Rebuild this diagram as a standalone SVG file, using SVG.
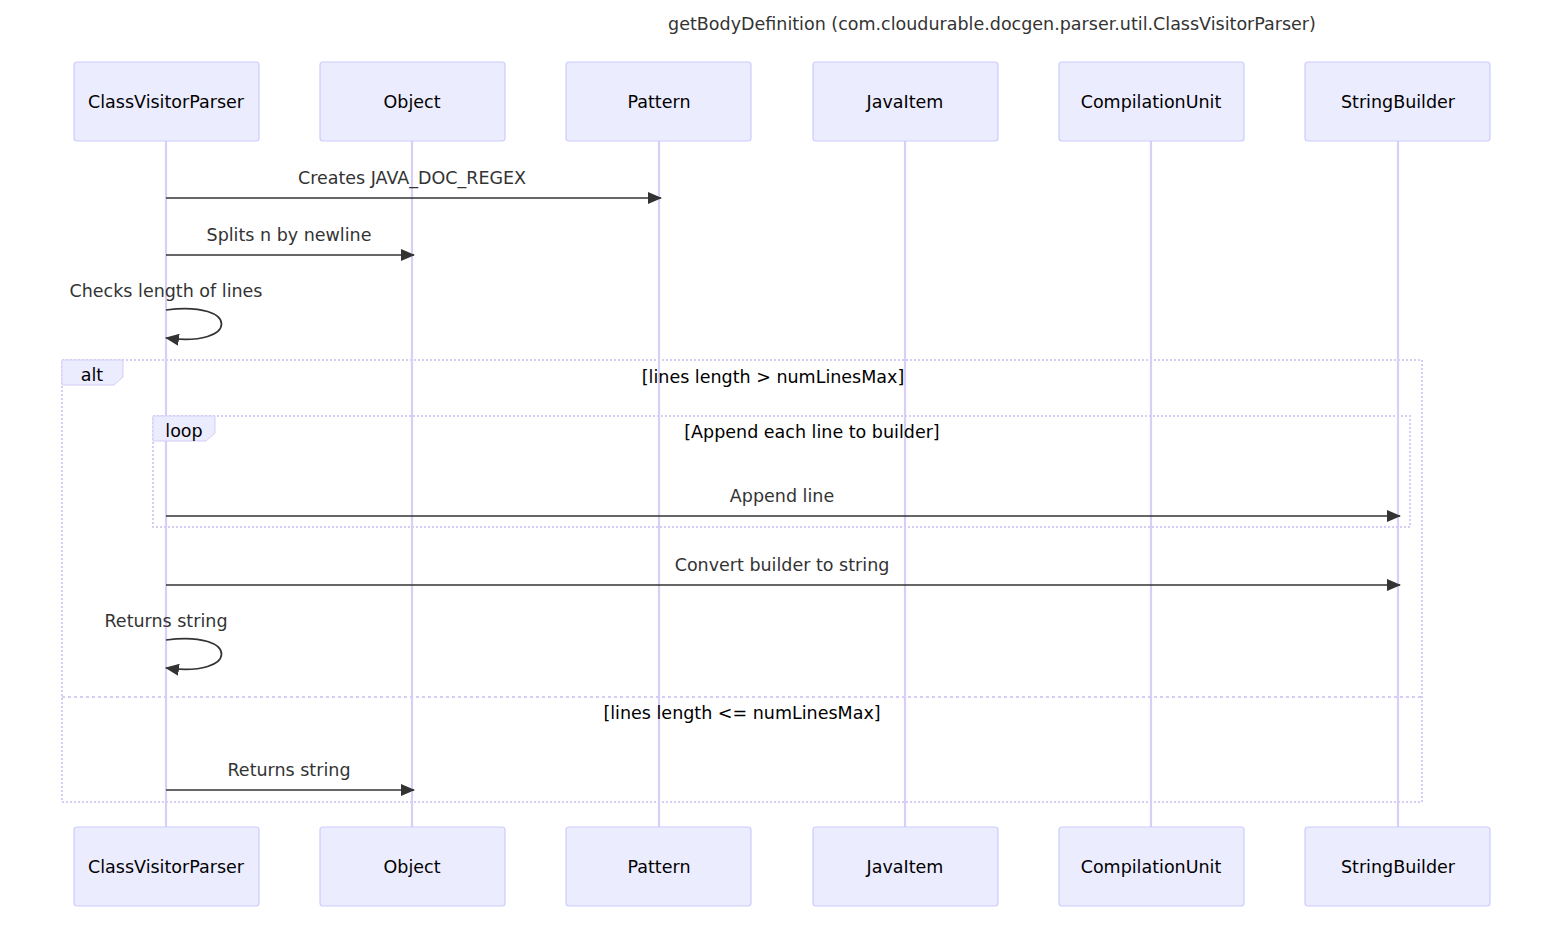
<svg xmlns="http://www.w3.org/2000/svg" width="1568" height="932" viewBox="0 0 1568 932">
<style>
text{font-family:"DejaVu Sans","Liberation Sans",sans-serif;}
.actor rect{fill:#ECECFF;stroke:#CCCCFF;stroke-width:1.2;}
.actor text{font-size:17.5px;fill:#000;text-anchor:middle;dominant-baseline:central;}
.life{stroke:#D9CEF5;stroke-width:2.2;}
.msg{stroke:#333;stroke-width:1.7;fill:none;}
.mt{font-size:17.5px;fill:#333;text-anchor:middle;}
.frame{fill:none;stroke:#D5CDF5;stroke-width:2;stroke-dasharray:2,2;}
.lbox{fill:#ECECFF;stroke:#D5CDF5;stroke-width:1;}
.lt{font-size:17.5px;fill:#000;text-anchor:middle;}
.sep{stroke:#D5CDF5;stroke-width:2;stroke-dasharray:3,3;}
</style>
<defs>
<marker id="arr" viewBox="0 0 14 12" refX="13" refY="6" markerWidth="14" markerHeight="12" markerUnits="userSpaceOnUse" orient="auto">
<path d="M0,0 L14,6 L0,12 z" fill="#333"/>
</marker>
</defs>
<rect width="1568" height="932" fill="#fff"/>
<text x="992" y="30" style="font-size:17.5px;fill:#333;text-anchor:middle">getBodyDefinition (com.cloudurable.docgen.parser.util.ClassVisitorParser)</text>
<g id="lifelines">
<line class="life" x1="166" y1="141" x2="166" y2="827"/>
<line class="life" x1="412" y1="141" x2="412" y2="827"/>
<line class="life" x1="659" y1="141" x2="659" y2="827"/>
<line class="life" x1="905" y1="141" x2="905" y2="827"/>
<line class="life" x1="1151" y1="141" x2="1151" y2="827"/>
<line class="life" x1="1398" y1="141" x2="1398" y2="827"/>
</g>
<g id="frames">
<rect class="frame" x="62" y="360" width="1360" height="442"/>
<polygon class="lbox" points="62,360 123,360 123,377 114,385 62,385"/>
<text class="lt" x="92" y="381">alt</text>
<text class="lt" x="773" y="383">[lines length &gt; numLinesMax]</text>
<line class="sep" x1="62" y1="697" x2="1422" y2="697"/>
<text class="lt" x="742" y="719">[lines length &lt;= numLinesMax]</text>
<rect class="frame" x="153" y="416" width="1257" height="111"/>
<polygon class="lbox" points="153,416 215,416 215,433 206,441 153,441"/>
<text class="lt" x="184" y="437">loop</text>
<text class="lt" x="812" y="438">[Append each line to builder]</text>
</g>
<g id="connectors">
<line class="msg" x1="166" y1="198" x2="661" y2="198" marker-end="url(#arr)"/>
<text class="mt" x="412" y="184">Creates JAVA_DOC_REGEX</text>
<line class="msg" x1="166" y1="255" x2="414" y2="255" marker-end="url(#arr)"/>
<text class="mt" x="289" y="241">Splits n by newline</text>
<path class="msg" d="M166,310 C240,300 240,348 166,338" marker-end="url(#arr)"/>
<text class="mt" x="166" y="297">Checks length of lines</text>
<line class="msg" x1="166" y1="516" x2="1400" y2="516" marker-end="url(#arr)"/>
<text class="mt" x="782" y="502">Append line</text>
<line class="msg" x1="166" y1="585" x2="1400" y2="585" marker-end="url(#arr)"/>
<text class="mt" x="782" y="571">Convert builder to string</text>
<path class="msg" d="M166,640 C240,630 240,678 166,668" marker-end="url(#arr)"/>
<text class="mt" x="166" y="627">Returns string</text>
<line class="msg" x1="166" y1="790" x2="414" y2="790" marker-end="url(#arr)"/>
<text class="mt" x="289" y="776">Returns string</text>
</g>
<g id="actor-ClassVisitorParser" class="actor"><rect x="74" y="62" width="185" height="79" rx="3"/><text x="166" y="102">ClassVisitorParser</text></g>
<g id="actor-Object" class="actor"><rect x="320" y="62" width="185" height="79" rx="3"/><text x="412" y="102">Object</text></g>
<g id="actor-Pattern" class="actor"><rect x="566" y="62" width="185" height="79" rx="3"/><text x="659" y="102">Pattern</text></g>
<g id="actor-JavaItem" class="actor"><rect x="813" y="62" width="185" height="79" rx="3"/><text x="905" y="102">JavaItem</text></g>
<g id="actor-CompilationUnit" class="actor"><rect x="1059" y="62" width="185" height="79" rx="3"/><text x="1151" y="102">CompilationUnit</text></g>
<g id="actor-StringBuilder" class="actor"><rect x="1305" y="62" width="185" height="79" rx="3"/><text x="1398" y="102">StringBuilder</text></g>
<g id="actor-ClassVisitorParser-bottom" class="actor"><rect x="74" y="827" width="185" height="79" rx="3"/><text x="166" y="867">ClassVisitorParser</text></g>
<g id="actor-Object-bottom" class="actor"><rect x="320" y="827" width="185" height="79" rx="3"/><text x="412" y="867">Object</text></g>
<g id="actor-Pattern-bottom" class="actor"><rect x="566" y="827" width="185" height="79" rx="3"/><text x="659" y="867">Pattern</text></g>
<g id="actor-JavaItem-bottom" class="actor"><rect x="813" y="827" width="185" height="79" rx="3"/><text x="905" y="867">JavaItem</text></g>
<g id="actor-CompilationUnit-bottom" class="actor"><rect x="1059" y="827" width="185" height="79" rx="3"/><text x="1151" y="867">CompilationUnit</text></g>
<g id="actor-StringBuilder-bottom" class="actor"><rect x="1305" y="827" width="185" height="79" rx="3"/><text x="1398" y="867">StringBuilder</text></g>
</svg>
